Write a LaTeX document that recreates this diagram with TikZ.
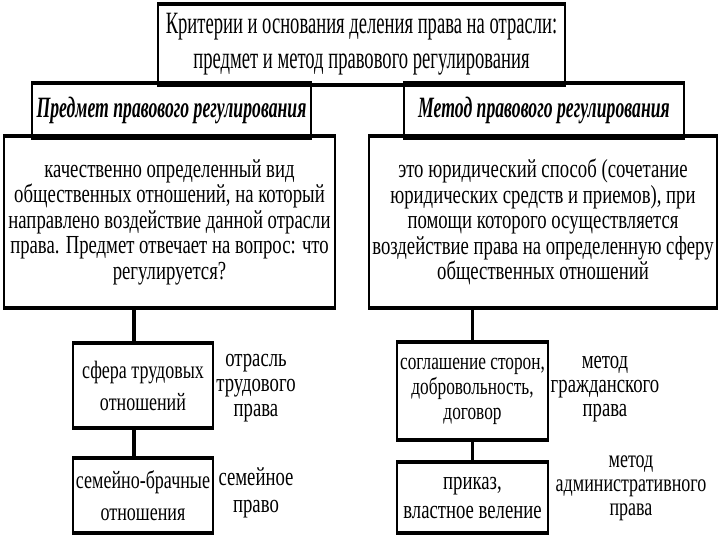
\documentclass[tikz,border=0pt]{standalone}
\usepackage{fontspec}
\setmainfont{Liberation Serif}[FakeStretch=0.6]
\newfontfamily\bodyfam{Liberation Serif}[FakeStretch=0.72]
\usepackage{tikz}
\usetikzlibrary{positioning}

\begin{document}
\begin{tikzpicture}[
    x=1pt, y=-1pt,
    box/.style={draw, line width=1.6pt, inner sep=0pt, align=center,
      append after command={
        (\tikzlastnode.north west) edge[line width=3.8pt] (\tikzlastnode.north east)
        (\tikzlastnode.south west) edge[line width=3.8pt] (\tikzlastnode.south east)}},
    ttl/.style={box, font=\fontsize{31}{35}\selectfont},
    hdr/.style={box, font=\fontsize{29.5}{30}\selectfont\bfseries\itshape},
    body/.style={box, font=\bodyfam\fontsize{26}{25.5}\selectfont},
    sub/.style={box, font=\bodyfam\fontsize{25}{32}\selectfont},
    lbl/.style={align=center, inner sep=0pt, font=\bodyfam\fontsize{26}{25}\selectfont},
    conn/.style={line width=3.8pt},
  ]
    \useasboundingbox (0,0) rectangle (720,540);

    \node[ttl, minimum width=407pt, minimum height=79pt] (title) at (361.5,44.5)
      {Критерии и основания деления права на отрасли:\\предмет и метод правового регулирования};

    \node[hdr, minimum width=279pt, minimum height=53pt] (lhead) at (171.5,110.5) {Предмет правового регулирования};
    \node[hdr, minimum width=280pt, minimum height=53pt] (rhead) at (544,110.5) {Метод правового регулирования};

    \node[body, minimum width=331pt, minimum height=170pt] (lmain) at (169.5,222)
      {качественно определенный вид\\общественных отношений, на который\\направлено воздействие данной отрасли\\права. Предмет отвечает на вопрос: что\\регулируется?};
    \node[body, minimum width=348pt, minimum height=170pt] (rmain) at (543,222)
      {это юридический способ (сочетание\\юридических средств и приемов), при\\помощи которого осуществляется\\воздействие права на определенную сферу\\общественных отношений};

    \node[sub, minimum width=140pt, minimum height=83pt] (labour) at (143,385.5) {сфера трудовых\\отношений};
    \node[sub, minimum width=140pt, minimum height=73pt] (family) at (143,495.5) {семейно-брачные\\отношения};
    \node[body, font=\bodyfam\fontsize{24}{25}\selectfont, minimum width=151pt, minimum height=96pt] (civil) at (472.5,391)
      {соглашение сторон,\\добровольность,\\договор};
    \node[body, font=\bodyfam\fontsize{26}{29}\selectfont, minimum width=151pt, minimum height=69pt] (admin) at (472.5,497.5)
      {приказ,\\властное веление};

    \node[lbl] (labourlbl) at (256,388) {отрасль\\трудового\\права};
    \node[lbl, font=\bodyfam\fontsize{26}{27}\selectfont] (familylbl) at (256,493) {семейное\\право};
    \node[lbl, font=\bodyfam\fontsize{26}{24}\selectfont] (civillbl) at (605,389) {метод\\гражданского\\права};
    \node[lbl, font=\bodyfam\fontsize{25}{24}\selectfont] (adminlbl) at (631,488) {метод\\административного\\права};

    \draw[conn] ([xshift=-9pt]labour.north) -- ([xshift=-9pt]labour.north |- lmain.south);
    \draw[conn] ([xshift=-9pt]family.north) -- ([xshift=-9pt]labour.south);
    \draw[conn] (civil.north) -- (civil.north |- rmain.south);
    \draw[conn] (admin.north) -- (civil.south);
  \end{tikzpicture}
\end{document}
